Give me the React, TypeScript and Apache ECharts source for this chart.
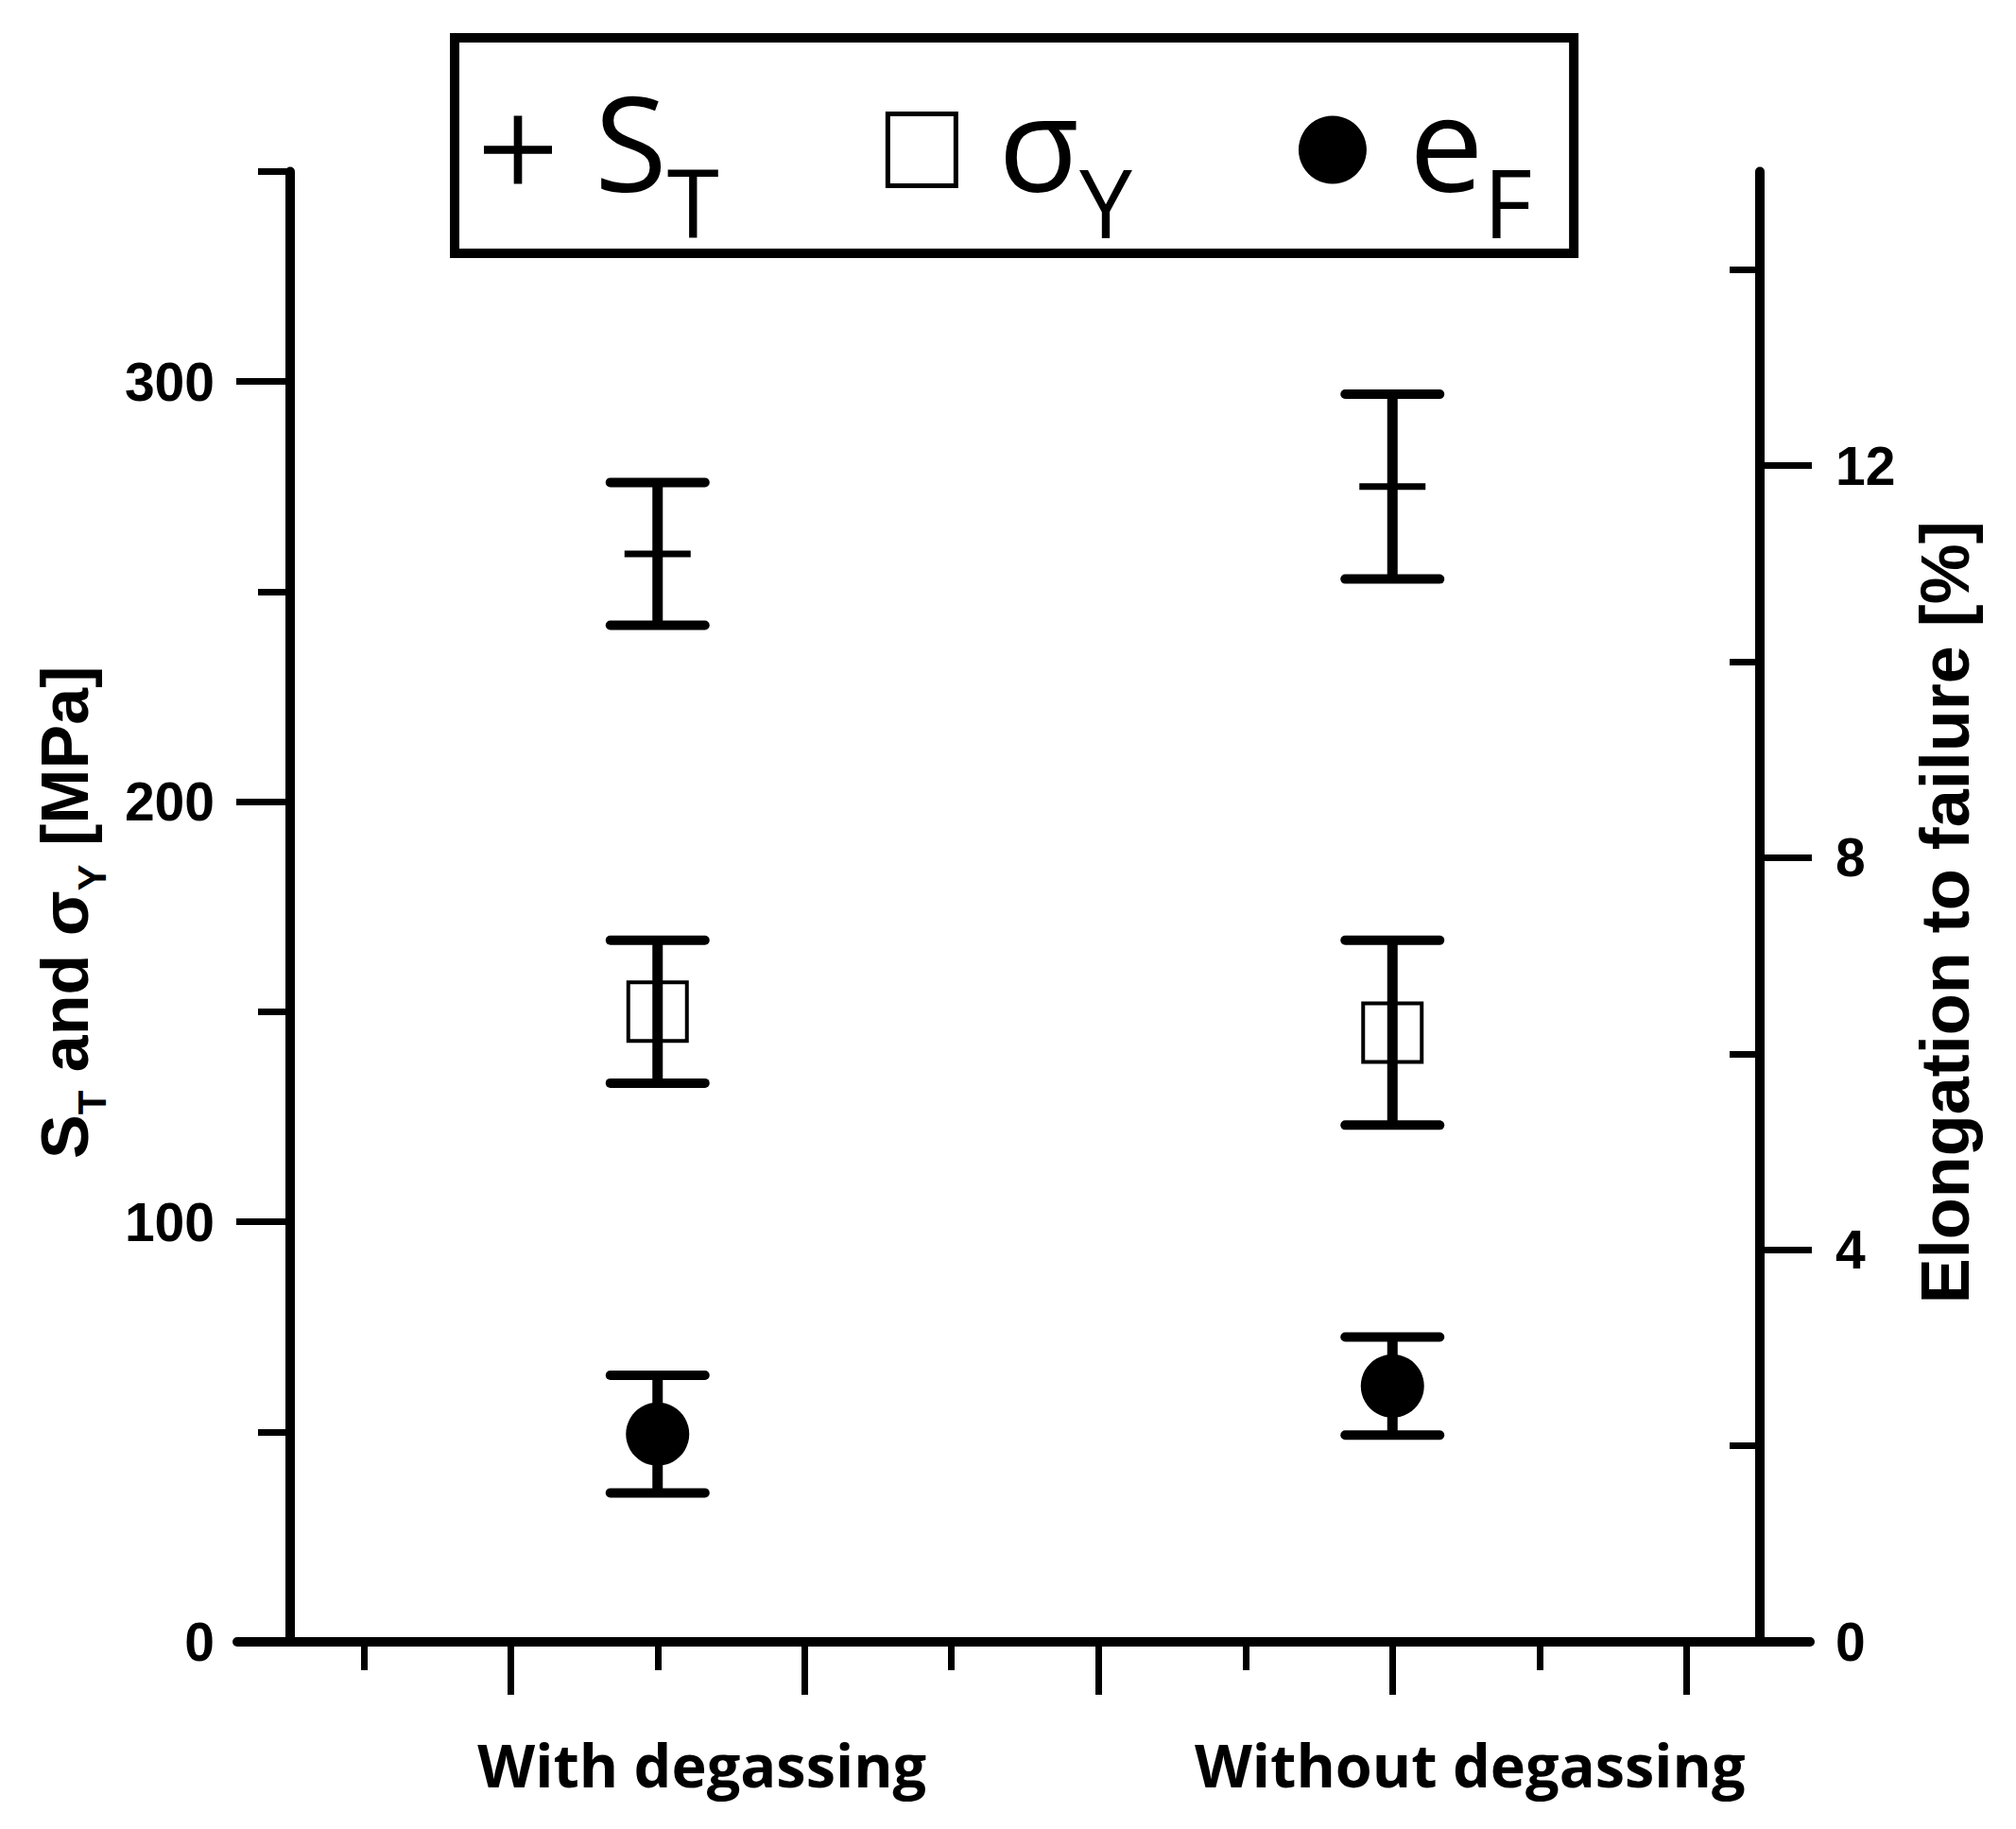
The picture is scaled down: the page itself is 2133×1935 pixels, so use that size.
import React, { useEffect, useRef } from 'react';
import * as echarts from 'echarts';

// ---- data ----
const groups = ['With degassing', 'Without degassing'];
const tensileMean = [259, 275];
const tensileErr = [17, 22];
const yieldMean = [150, 145];
const yieldErr = [17, 22];
const elongMean = [2.12, 2.61];
const elongErr = [0.6, 0.5];

const seriesNames = ['ST', 'σY', 'eF'];
const legendMain = ['S', 'σ', 'e'];
const legendSub = ['T', 'Y', 'F'];

const leftMajorTicks = [0, 100, 200, 300];
const leftMinorTicks = [50, 150, 250, 350];
const rightMajorTicks = [0, 4, 8, 12];
const rightMinorTicks = [2, 6, 10, 14];
const xMajorTicks = [0.8, 1.2, 1.6, 2.0, 2.4];
const xMinorTicks = [0.6, 1.0, 1.4, 1.8, 2.2];
const groupTicks = [1, 2];

const BLACK = '#000';
const TICK_FONT = 'Liberation Sans';
const LEG_FONT = 'Open Sans';

function makeRender(marker: 'mean' | 'square' | 'circle') {
  return (params: any, api: any) => {
    const x = api.value(0);
    const m = api.value(1);
    const e = api.value(2);
    const c = api.coord([x, m]);
    const top = api.coord([x, m + e]);
    const bot = api.coord([x, m - e]);
    const capHalf = 50;
    const children: any[] = [
      { type: 'line', shape: { x1: c[0], y1: top[1], x2: c[0], y2: bot[1] }, style: { stroke: BLACK, lineWidth: 11 } },
      { type: 'line', shape: { x1: c[0] - capHalf, y1: top[1], x2: c[0] + capHalf, y2: top[1] }, style: { stroke: BLACK, lineWidth: 10, lineCap: 'round' } },
      { type: 'line', shape: { x1: c[0] - capHalf, y1: bot[1], x2: c[0] + capHalf, y2: bot[1] }, style: { stroke: BLACK, lineWidth: 10, lineCap: 'round' } },
    ];
    if (marker === 'mean') {
      children.push({ type: 'line', shape: { x1: c[0] - 35, y1: c[1], x2: c[0] + 35, y2: c[1] }, style: { stroke: BLACK, lineWidth: 7 } });
    } else if (marker === 'square') {
      children.push({ type: 'rect', shape: { x: c[0] - 31, y: c[1] - 31, width: 62, height: 62 }, style: { fill: 'none', stroke: BLACK, lineWidth: 4 } });
    } else {
      children.push({ type: 'circle', shape: { cx: c[0], cy: c[1], r: 33.5 }, style: { fill: BLACK } });
    }
    return { type: 'group', children };
  };
}

const tickStyle = { color: BLACK, width: 7 };

export default function App() {
  const ref = useRef<HTMLDivElement>(null);
  useEffect(() => {
    if (!ref.current) return;
    const chart = echarts.init(ref.current, null, { renderer: 'svg' });
    const option: any = {
      animation: false,
      backgroundColor: '#fff',
      grid: [
        { left: 307, right: 271, top: 181.5, bottom: 198, containLabel: false, outerBoundsMode: 'none' },
        { left: 251, right: 218, top: 181.5, bottom: 198, containLabel: false, outerBoundsMode: 'none' },
      ],
      legend: {
        left: 481,
        top: 40,
        orient: 'horizontal',
        itemWidth: 72,
        itemHeight: 76,
        itemGap: 176,
        padding: [38, 44, 5, 31],
        borderColor: BLACK,
        borderWidth: 10,
        selectedMode: false,
        data: [
          { name: seriesNames[0], icon: 'path://M0,44 L100,44 L100,56 L0,56 Z M44,0 L56,0 L56,100 L44,100 Z', itemStyle: { color: BLACK, borderWidth: 0 } },
          { name: seriesNames[1], icon: 'rect', itemStyle: { color: 'rgba(0,0,0,0)', borderColor: BLACK, borderWidth: 5 } },
          { name: seriesNames[2], icon: 'circle', itemStyle: { color: BLACK, borderWidth: 0 } },
        ],
        formatter: (name: string) => {
          const i = seriesNames.indexOf(name);
          return `{m|${legendMain[i]}}{s|${legendSub[i]}}`;
        },
        textStyle: {
          fontFamily: LEG_FONT,
          fontSize: 140,
          color: BLACK,
          padding: [24, 0, 0, 40],
          rich: {
            m: { fontFamily: LEG_FONT, fontSize: 140, lineHeight: 185, verticalAlign: 'top', color: BLACK },
            s: { fontFamily: LEG_FONT, fontSize: 100, verticalAlign: 'bottom', color: BLACK },
          },
        },
      },
      xAxis: [
        {
          gridIndex: 0, type: 'value', position: 'bottom', min: 0.5, max: 2.5,
          axisLine: { show: false, onZero: false },
          axisTick: { show: true, customValues: xMajorTicks, length: 56, lineStyle: tickStyle },
          axisLabel: {
            show: true, customValues: groupTicks, margin: 98,
            formatter: (v: number) => {
              const i = Math.round(v) - 1;
              return `{g${i}|${groups[i]}}`;
            },
            rich: {
              g0: { fontFamily: LEG_FONT, fontWeight: 'bold', fontSize: 63, color: BLACK, padding: [0, 0, 0, 94] },
              g1: { fontFamily: LEG_FONT, fontWeight: 'bold', fontSize: 63, color: BLACK, padding: [0, 0, 0, 164] },
            },
          },
          splitLine: { show: false },
        },
        {
          gridIndex: 0, type: 'value', position: 'bottom', min: 0.5, max: 2.5,
          axisLine: { show: false, onZero: false },
          axisTick: { show: true, customValues: xMinorTicks, length: 30, lineStyle: tickStyle },
          axisLabel: { show: false },
          splitLine: { show: false },
        },
        {
          gridIndex: 1, type: 'value', position: 'bottom', min: 0, max: 1,
          axisLine: { show: true, onZero: false, lineStyle: { color: BLACK, width: 10 } },
          axisTick: { show: false },
          axisLabel: { show: false },
          splitLine: { show: false },
        },
      ],
      yAxis: [
        {
          gridIndex: 0, type: 'value', position: 'left', min: 0, max: 350,
          axisLine: { show: true, onZero: false, lineStyle: { color: BLACK, width: 10 } },
          axisTick: { show: true, customValues: leftMajorTicks, length: 57, lineStyle: tickStyle },
          axisLabel: { show: true, customValues: leftMajorTicks, margin: 80, color: BLACK, fontFamily: TICK_FONT, fontWeight: 'bold', fontSize: 57 },
          splitLine: { show: false },
          name: '{a|S}{b|T}{a| and σ}{b|Y}{a| [MPa]}',
          nameLocation: 'middle',
          nameGap: 189,
          nameRotate: 90,
          nameTextStyle: {
            padding: [0, 12, 0, 0],
            rich: {
              a: { fontFamily: TICK_FONT, fontWeight: 'bold', fontSize: 70, lineHeight: 84, verticalAlign: 'top', color: BLACK },
              b: { fontFamily: TICK_FONT, fontWeight: 'bold', fontSize: 42, verticalAlign: 'bottom', color: BLACK },
            },
          },
        },
        {
          gridIndex: 0, type: 'value', position: 'left', min: 0, max: 350,
          axisLine: { show: false, onZero: false },
          axisTick: { show: true, customValues: leftMinorTicks, length: 34, lineStyle: tickStyle },
          axisLabel: { show: false },
          splitLine: { show: false },
        },
        {
          gridIndex: 0, type: 'value', position: 'right', min: 0, max: 15,
          axisLine: { show: true, onZero: false, lineStyle: { color: BLACK, width: 10 } },
          axisTick: { show: true, customValues: rightMajorTicks, length: 55, lineStyle: tickStyle },
          axisLabel: { show: true, customValues: rightMajorTicks, margin: 80, color: BLACK, fontFamily: TICK_FONT, fontWeight: 'bold', fontSize: 57 },
          splitLine: { show: false },
          name: 'Elongation to failure [%]',
          nameLocation: 'middle',
          nameGap: 160,
          nameRotate: 90,
          nameTextStyle: { fontFamily: TICK_FONT, fontWeight: 'bold', fontSize: 72, lineHeight: 72, color: BLACK, padding: [0, 12, 0, 0] },
        },
        {
          gridIndex: 0, type: 'value', position: 'right', min: 0, max: 15,
          axisLine: { show: false, onZero: false },
          axisTick: { show: true, inside: true, customValues: rightMinorTicks, length: 32, lineStyle: tickStyle },
          axisLabel: { show: false },
          splitLine: { show: false },
        },
        { gridIndex: 1, type: 'value', show: false, min: 0, max: 1 },
      ],
      series: [
        {
          name: seriesNames[0], type: 'custom', xAxisIndex: 0, yAxisIndex: 0,
          renderItem: makeRender('mean'), encode: { x: 0, y: 1 },
          itemStyle: { color: BLACK },
          data: groups.map((_, i) => [groupTicks[i], tensileMean[i], tensileErr[i]]),
        },
        {
          name: seriesNames[1], type: 'custom', xAxisIndex: 0, yAxisIndex: 0,
          renderItem: makeRender('square'), encode: { x: 0, y: 1 },
          itemStyle: { color: BLACK },
          data: groups.map((_, i) => [groupTicks[i], yieldMean[i], yieldErr[i]]),
        },
        {
          name: seriesNames[2], type: 'custom', xAxisIndex: 0, yAxisIndex: 2,
          renderItem: makeRender('circle'), encode: { x: 0, y: 1 },
          itemStyle: { color: BLACK },
          data: groups.map((_, i) => [groupTicks[i], elongMean[i], elongErr[i]]),
        },
      ],
    };
    chart.setOption(option);
    return () => chart.dispose();
  }, []);
  return (
    <div
      ref={ref}
      style={{ position: 'absolute', left: 0, top: 0, width: 2133, height: 1935, background: '#fff' }}
    />
  );
}
